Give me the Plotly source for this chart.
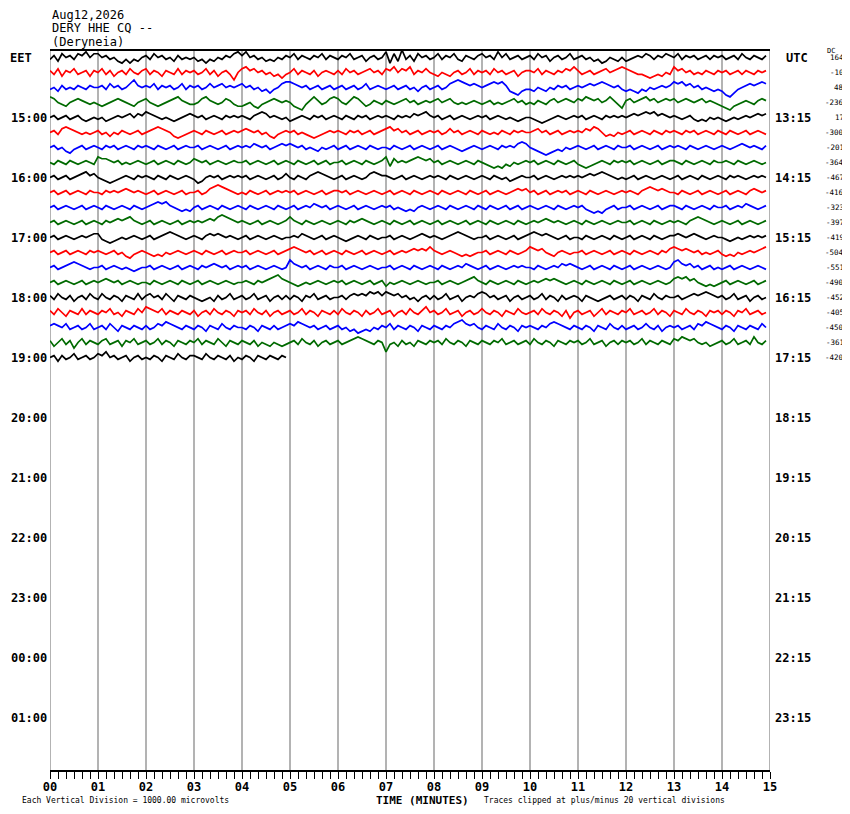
import plotly.graph_objects as go

# ---------------- header / labels ----------------
date_label = "Aug12,2026"
station_label = "DERY HHE CQ --"
site_label = "(Deryneia)"
left_zone = "EET"
right_zone = "UTC"
eet_hours = ["15:00", "16:00", "17:00", "18:00", "19:00", "20:00", "21:00",
             "22:00", "23:00", "00:00", "01:00"]
utc_hours = ["13:15", "14:15", "15:15", "16:15", "17:15", "18:15", "19:15",
             "20:15", "21:15", "22:15", "23:15"]
hour_rows = [4, 8, 12, 16, 20, 24, 28, 32, 36, 40, 44]
dc_values = [164, -10, 48, -236, 17, -300, -201, -364, -467, -416, -323,
             -397, -419, -504, -551, -490, -452, -405, -450, -361, -420]
minute_labels = ["00", "01", "02", "03", "04", "05", "06", "07", "08", "09",
                 "10", "11", "12", "13", "14", "15"]
trace_colors = ["#000000", "#ff0000", "#0000ff", "#006a00"]
n_rows = 48

# ---------------- trace amplitudes (one sample every 5 s, units of 1/8 division) ----------------
tr00 = [-1,1,-2,2,0,1,-1,2,1,3,0,2, 2,0,1,-1,0,-2,-3,-1,-3,-1,-2,0, 1,-1,2,0,1,-1,0,-2,1,-1,0,-1,
        0,-2,-1,-3,-1,-2,0,-1,1,0,2,3, 1,3,0,1,-1,0,-2,-1,-2,0,-1,1, 0,2,-1,1,0,-1,1,0,2,-1,1,0,
        -1,1,0,2,-1,0,1,-2,0,1,-1,0, 3,-3,2,-2,4,-1,1,-2,2,0,1,-1, 0,2,-1,1,0,2,-1,-2,1,0,-1,1,
        2,0,1,-1,3,0,2,-1,0,1,-1,0, 1,-1,2,0,1,-2,0,1,-1,0,2,-1, 0,1,-1,0,-2,-1,-3,-2,0,-1,-2,0,
        -2,-1,0,1,0,2,1,-1,1,0,2,1, 0,2,-1,1,0,1,-1,0,1,-1,1,0, 1,-1,0,1,-1,2,0,-1,1,0,-1,1]
tr01 = [1,-1,2,-2,1,0,2,-1,0,1,-2,1, 0,2,-1,1,-2,0,1,-1,2,0,-1,1, 2,-1,1,0,-2,1,0,-1,2,-1,1,0,
        1,-1,0,2,-1,1,-2,0,1,-1,-4,0, 2,3,1,2,0,1,-1,0,-2,-1,-3,-1, 0,2,-1,1,0,-1,1,-2,0,1,0,-1,
        1,-1,2,0,1,-1,0,1,2,0,1,-1, 2,1,3,0,2,1,3,-1,1,0,2,0, -1,-2,0,-1,-2,0,1,-1,0,2,-1,1,
        0,1,-1,2,0,1,-1,0,1,-2,0,1, 1,0,2,-1,1,0,-1,1,0,2,1,3, 1,-1,0,1,-1,0,1,2,0,1,2,3,
        2,1,0,-1,-1,-2,-3,-2,-1,-2,0,-1, 3,1,2,0,1,-1,0,-1,1,0,-1,1, 0,1,-1,0,1,-1,1,0,-1,1,0,1]
tr02 = [-1,0,-2,1,-1,0,-1,1,0,-1,1,0, 0,1,-1,2,0,1,-1,0,2,4,1,0, 1,0,2,-1,1,0,1,-1,0,2,-1,1,
        0,1,-1,0,2,0,1,2,0,1,0,1, 2,0,1,-1,0,-2,-1,-3,-1,0,2,3, 3,2,1,0,1,-1,0,1,-1,0,1,-1,
        0,1,-1,0,1,-1,0,2,-1,0,1,0, -1,0,1,-1,0,1,-1,0,-2,0,1,-1, 0,1,-1,0,2,3,4,3,2,1,2,1,
        0,1,2,3,2,3,1,-2,-3,-4,-2,-1, -1,-2,0,-1,-2,0,-1,1,0,1,-1,0, 1,0,1,2,1,2,3,2,1,0,1,-1,
        -2,-1,-2,-3,-1,-2,0,-1,0,1,0,1, 3,2,3,1,2,0,1,-1,0,-1,-2,-1, -2,-4,-5,-3,-1,0,1,2,1,2,3,2]
tr03 = [3,2,0,-1,-2,0,1,2,1,0,-1,0, -1,-2,-1,0,1,2,1,0,-1,-2,0,1, 2,0,-1,-2,-1,0,1,2,3,1,0,-1,
        -1,0,2,3,1,0,-1,0,2,1,-1,-2, -2,-1,0,-2,-3,-1,0,1,2,1,0,1, 0,-2,-3,-4,-1,1,3,1,-1,0,2,3,
        2,0,-1,1,3,2,0,-2,-1,1,0,-1, 1,0,-1,0,1,2,0,1,-1,0,1,0, 1,2,0,1,2,0,-1,0,-1,0,1,0,
        -1,0,1,-1,0,-1,0,1,2,0,1,-1, 0,-1,1,0,-1,1,2,0,1,2,1,0, 2,1,3,2,1,2,0,1,3,1,-1,-3,
        1,2,0,1,2,3,1,2,0,1,2,1, 2,0,1,2,1,0,1,2,0,1,0,-1, -2,-3,-4,-2,-1,0,1,0,-1,1,2,1]
tr04 = [0,1,-1,0,1,-1,0,1,-1,-2,-1,0, -1,0,-2,-1,0,1,0,1,2,0,2,1, 3,2,1,0,-1,0,-1,-2,-1,0,1,2,
        1,0,1,-1,0,1,0,-1,1,0,1,0, 1,0,-1,1,2,3,2,0,1,0,-1,0, -2,-1,0,1,0,-1,1,0,1,-1,0,1,
        0,-1,1,0,-1,1,0,1,-1,0,1,0, 1,0,-1,1,0,1,0,2,1,2,3,1, 0,1,-1,0,1,-1,0,1,0,-1,0,1,
        0,1,-1,0,1,0,-1,0,-1,-2,-1,0, 0,-1,-2,-3,-2,-1,0,1,0,-1,0,1, 0,1,-1,0,1,0,-1,1,0,1,0,1,
        0,1,2,1,2,3,2,3,1,2,1,0, 1,0,-1,0,1,-1,-2,-1,-2,0,-1,0, -1,-2,-1,0,-1,0,1,0,1,2,1,2]
tr05 = [0,1,-1,2,3,2,1,0,-1,0,-1,0, 1,-1,0,-2,0,-1,1,0,-1,0,1,-1, 0,1,2,3,2,1,0,-2,-3,-2,-1,0,
        1,0,-1,1,0,-1,0,1,-1,0,1,0, 1,2,1,0,1,-1,0,-2,-3,-1,0,1, 0,1,-1,0,-1,-2,-3,-2,-1,0,1,0,
        1,0,-1,1,0,1,-1,0,1,-1,0,1, 2,3,1,2,0,1,-1,0,1,-1,0,1, 0,1,-1,0,2,0,1,-1,0,1,0,-1,
        1,0,-1,0,-1,1,0,-1,1,0,1,0, 0,1,2,0,1,-1,0,1,-1,0,1,0, 1,0,2,1,3,2,0,-2,-1,-2,0,-1,
        0,1,-1,0,1,0,-1,1,0,-1,1,0, 1,0,-1,1,0,1,-1,0,1,0,-1,1, 0,-1,1,0,-1,0,1,-1,0,1,0,-1]
tr06 = [0,1,-1,0,-2,-3,-1,0,1,-1,0,1, 0,-1,1,0,1,-1,0,1,0,-1,1,0, 1,0,-1,1,0,-1,0,1,-1,0,1,0,
        0,1,-1,0,1,0,-1,0,1,-1,0,1, 0,1,0,2,1,0,1,-1,0,1,2,1, 2,1,0,1,-1,0,-1,-2,0,-1,0,1,
        -1,0,1,-1,0,1,0,-1,1,0,-1,0, 0,-1,1,0,-1,0,1,-1,0,1,0,-1, 0,1,-1,0,1,0,-1,-2,-1,0,1,0,
        -1,0,1,0,-1,1,0,1,0,2,3,2, 0,-1,-2,-3,-4,-3,-2,-1,-2,0,-1,0, 1,0,-1,0,1,-1,0,1,0,-1,1,0,
        0,1,-1,0,1,0,-1,0,1,-1,0,1, 0,1,0,-1,1,0,-1,0,1,0,-1,0, 1,0,-1,0,1,2,1,0,1,0,-1,1]
tr07 = [0,-1,1,0,-1,1,0,-1,0,1,0,-1, 3,2,2,1,0,1,-1,0,-1,0,1,0, -1,0,1,-1,0,1,0,-1,1,0,-1,0,
        2,1,0,1,-1,0,1,0,-1,0,1,0, 0,1,-1,0,1,0,-1,0,1,-1,0,1, 0,-1,1,0,-1,0,1,-1,0,1,-1,0,
        0,1,-1,0,1,0,-1,1,0,-1,0,1, 3,-2,2,0,1,0,1,2,3,2,1,2, 0,1,-1,0,1,0,-1,0,1,0,-1,1,
        0,-1,-2,-3,-2,-3,-1,-2,0,-1,0,1, 0,1,-1,0,1,0,-1,1,0,-1,0,1, -1,-2,-3,-2,-1,0,1,0,-1,1,0,1,
        0,1,-1,0,1,0,-1,0,1,-1,0,1, 1,0,-1,1,0,-1,0,1,0,-1,1,0, 0,1,0,-1,1,0,-1,0,1,0,-1,0]
tr08 = [0,1,-1,0,1,-1,0,1,2,3,1,2, 0,-1,-2,-3,-2,-1,0,1,0,-1,1,0, 1,0,-1,1,0,-1,1,0,-1,0,1,0,
        -1,-3,-2,0,1,0,1,-1,0,1,0,1, 0,1,-1,0,1,0,-1,0,1,-1,0,2, 0,-1,1,0,-1,1,2,3,2,1,0,-1,
        0,1,-1,0,1,0,-1,0,2,3,2,1, 1,0,-1,0,1,-1,0,1,0,-1,0,1, 0,1,0,-1,1,0,-1,0,1,0,-1,0,
        1,0,-1,1,0,-1,0,-2,-1,0,1,0, 0,1,-1,0,1,0,-1,0,1,0,1,0, 1,0,1,2,1,2,3,2,1,0,-1,0,
        -1,0,1,-1,0,1,0,-1,0,1,0,-1, 0,1,-1,0,1,0,-1,1,0,-1,0,1, 0,-1,1,0,1,0,-1,0,1,0,1,0]
tr09 = [0,1,-1,0,1,-1,0,1,0,-1,1,0, 0,-1,1,0,1,0,1,2,1,0,1,0, -1,0,1,-1,0,1,0,-1,0,1,-1,0,
        0,1,-1,0,2,3,4,3,2,1,0,-1, 0,-1,1,0,-1,0,1,-1,0,1,0,1, 0,1,-1,0,1,0,-1,0,1,-1,0,1,
        1,0,1,-1,0,1,0,-1,0,1,0,-1, 0,1,-1,0,1,0,-1,1,0,-1,0,1, 0,-1,1,0,-1,0,1,0,-1,1,0,-1,
        0,1,-1,0,1,0,-1,0,1,2,1,2, 0,1,-1,0,1,-1,0,1,0,1,-1,0, 1,0,-1,1,0,-1,0,1,0,-1,0,1,
        0,1,0,-1,1,2,3,2,1,2,1,0, 0,-1,1,0,-1,0,1,-1,0,1,0,-1, 0,1,-1,0,1,0,-1,1,2,1,0,1]
tr10 = [0,1,-1,0,1,0,-1,0,1,-1,0,1, 0,-1,1,0,-1,0,1,0,-1,1,0,-1, 0,1,2,3,2,3,1,0,-1,-2,-1,-2,
        0,1,-1,0,1,0,-1,1,0,-1,0,1, 0,-1,1,0,-1,0,1,0,-1,1,0,-1, 0,1,-1,0,1,0,2,1,0,1,-1,0,
        1,0,-1,0,1,-1,0,1,0,-1,0,1, 0,1,-1,0,-1,-2,-1,-2,0,1,0,-1, 0,1,0,-1,1,0,-1,0,1,0,-1,1,
        0,-1,1,0,-1,0,1,-1,0,1,-1,0, 1,0,-1,0,1,0,-1,1,0,-1,0,1, 0,1,-1,-2,-3,-2,-3,-1,0,1,-1,0,
        0,1,-1,0,1,0,-1,0,1,-1,0,1, 1,0,-1,1,0,-1,0,1,0,-1,1,0, 0,1,-1,0,1,0,2,1,0,-1,0,1]
tr11 = [0,1,-1,0,1,0,-1,0,1,-1,0,1, 0,-1,1,0,1,2,1,2,3,1,0,-1, 0,1,-1,0,1,0,-1,0,1,-1,0,1,
        0,1,0,1,2,1,3,4,3,2,1,0, 1,0,-1,0,1,-1,0,1,0,-1,0,1, 3,1,0,-1,1,0,-1,0,1,0,-1,0,
        1,0,-1,1,0,1,2,1,0,-1,0,1, 0,-1,1,0,-1,0,1,-1,0,1,0,-1, 0,1,-1,0,1,0,-1,0,1,-1,0,1,
        0,-1,1,0,-1,0,1,0,-1,1,0,-1, 0,1,0,1,2,1,0,1,0,-1,0,1, 0,-1,1,0,-1,0,1,0,-1,0,1,0,
        0,1,-1,0,1,0,-1,1,0,-1,0,1, 0,1,0,-1,1,2,3,2,1,0,-1,0, 1,0,-1,0,1,-1,0,1,0,-1,0,1]
tr12 = [0,1,-1,0,1,0,-1,0,1,0,1,2, 2,-1,-2,-3,-2,-1,0,-1,0,1,0,-1, 0,1,-1,0,1,2,3,2,1,0,-1,0,
        1,0,-1,1,2,1,2,1,0,1,0,-1, 0,1,-1,0,1,0,-1,0,1,0,-1,0, 0,1,0,2,1,0,-1,0,1,-1,0,1,
        0,-1,-2,-1,0,1,0,-1,1,0,-1,0, 0,1,-1,0,1,0,-1,0,1,2,1,0, 1,0,-1,0,1,2,3,2,1,0,-1,0,
        0,1,-1,0,1,0,-1,0,1,-1,0,1, 2,3,2,1,2,1,0,-1,0,1,-1,0, 0,-1,1,0,-1,0,1,0,-1,1,0,-1,
        0,1,-1,0,1,0,-1,1,0,-1,0,1, 1,2,1,0,1,2,1,0,-1,0,1,0, 0,-1,-2,-1,0,-1,0,1,0,1,0,1]
tr13 = [0,1,-1,0,1,-1,0,1,0,-1,1,0, 1,0,-1,0,1,-1,0,-2,-3,-1,0,1, 0,-1,-2,-1,-2,0,-1,0,1,0,-1,0,
        1,0,-1,1,0,-1,0,1,-1,0,1,0, 0,1,-1,0,1,0,-1,0,1,-1,0,1, 2,3,2,1,0,1,-1,0,1,-1,0,1,
        0,-1,1,0,-1,0,1,-1,0,1,0,-1, 0,1,-1,0,1,0,1,2,1,2,1,3, 1,0,-1,0,1,0,-1,-2,-1,-2,-1,0,
        0,1,-1,0,1,0,-1,1,0,-1,0,1, 3,2,1,2,0,-1,-2,0,1,0,-1,0, 0,1,-1,0,1,0,-1,0,1,-1,0,1,
        0,-1,1,0,-1,0,1,0,-1,1,0,2, 3,2,1,2,1,0,1,-1,0,-1,0,1, -1,-2,-1,-2,0,-1,0,1,0,1,2,3]
tr14 = [0,1,-1,0,1,2,3,2,1,0,-1,0, 0,1,-1,0,1,0,-1,0,-1,-2,-1,0, 0,1,-1,0,1,0,-1,0,1,-1,0,1,
        0,-1,1,0,1,2,1,0,1,-1,0,1, 0,1,-1,0,1,0,-1,0,1,0,-1,0, 4,2,1,0,1,-1,0,1,0,-1,1,0,
        0,1,-1,0,1,0,-1,0,1,0,-1,0, 0,1,-1,0,1,0,-1,1,0,-1,0,1, 0,-1,1,0,-1,0,1,0,2,1,0,-1,
        0,1,-1,0,1,0,-1,0,1,0,1,0, 0,-1,1,0,-1,0,1,0,2,1,2,1, 0,-1,0,1,-1,0,1,0,-1,1,0,-1,
        0,1,-1,0,1,0,-1,0,1,0,-1,0, 3,4,2,1,2,0,1,-1,0,1,-1,0, -1,0,1,-1,0,1,0,-1,0,1,0,-1]
tr15 = [0,1,-1,0,1,0,-1,0,1,-1,0,1, 0,1,2,1,0,1,-1,0,1,0,-1,0, 0,-1,1,0,-1,0,1,0,-1,1,0,-1,
        0,1,-1,0,1,0,-1,0,1,0,-1,0, 0,1,0,-1,1,0,1,2,3,4,2,1, 0,-1,-2,-1,0,-1,0,1,0,-1,0,1,
        0,1,-1,0,1,0,-1,0,1,-1,0,1, -2,0,-1,0,1,0,-1,0,1,0,-1,0, 0,1,-1,0,1,0,-1,0,1,2,3,1,
        0,-1,1,0,-1,0,1,0,-1,1,0,-1, 0,1,0,1,2,1,2,1,0,-1,0,1, 0,-1,1,0,-1,0,1,0,-1,1,0,-1,
        0,1,-1,0,1,0,-1,0,1,0,-1,0, 2,3,2,3,1,2,0,-1,-2,-1,-2,-1, 0,1,-1,0,1,0,-1,0,1,-1,0,1]
tr16 = [1,-1,2,0,-1,1,-2,0,1,-1,2,0, -1,2,0,-1,1,0,-2,1,0,-1,2,-1, 1,2,0,1,-1,2,0,-2,1,0,-1,1,
        0,-1,-2,-1,0,-2,1,-1,0,2,-1,0, 1,-1,0,2,-1,0,1,-2,0,1,-1,1, -1,1,0,-2,1,0,2,-1,0,1,-1,0,
        0,1,-1,1,2,1,2,1,3,2,3,1, 3,2,1,2,0,1,-1,0,-2,0,1,-1, 1,-1,0,2,-1,0,1,-2,0,1,0,2,
        3,2,0,1,-1,0,1,-2,0,1,-1,0, 1,-1,0,2,-1,1,0,-2,1,-1,0,1, 0,-2,1,0,-1,-2,-1,0,1,-1,0,1,
        -1,1,0,-2,1,0,-1,2,0,-1,1,0, 0,1,-1,0,1,2,1,2,3,2,1,0, 1,-1,0,2,-1,0,1,-2,0,1,-1,0]
tr17 = [1,-1,2,0,-2,1,0,-1,2,-1,1,0, -1,1,0,2,-1,0,-2,1,0,-1,2,0, 3,2,1,0,2,-1,1,0,-1,1,0,-1,
        1,-2,0,1,-1,2,0,-1,1,0,-2,1, 0,1,-1,2,0,-1,1,-2,0,1,-1,0, 1,-1,0,2,-1,1,0,-2,1,0,-1,1,
        -1,2,0,-1,1,0,-2,1,-1,0,2,-1, 0,1,-2,0,1,-1,2,0,-1,1,3,0, 1,-1,0,2,-1,0,1,-2,0,1,-1,0,
        2,0,-1,1,0,-2,1,0,-1,2,0,-1, 0,1,-1,2,0,-1,1,0,-2,1,-3,0, 1,-1,0,1,-2,0,2,-1,1,0,-1,1,
        0,2,-1,0,1,-1,0,2,-1,1,0,-2, 1,0,-1,2,0,-1,1,0,-2,1,0,1, -1,1,0,-2,1,0,2,-1,0,1,-1,0]
tr18 = [1,2,1,0,2,-1,0,1,-1,0,2,-1, 0,1,-1,2,0,-2,1,0,-1,1,0,-1, 1,-1,0,2,1,3,2,1,0,-1,1,0,
        -1,1,0,-2,1,0,-1,2,0,-1,1,0, 0,-1,1,0,-2,1,0,-1,1,-1,0,1, 2,1,3,2,1,0,1,-1,0,1,-1,0,
        1,-1,0,-2,-1,-3,-2,-1,-2,0,-1,1, 0,2,-1,1,0,-1,1,0,-2,1,0,-1, 1,0,-1,1,0,2,3,4,2,1,2,0,
        -1,1,0,-1,2,0,-1,1,0,-2,1,0, 1,0,-1,1,0,2,3,2,1,0,-1,1, 0,-1,1,0,-2,1,0,-1,2,0,-1,1,
        -1,0,1,-1,0,2,0,-1,1,-2,0,1, 0,1,-1,0,1,-1,2,1,3,2,1,0, -1,1,0,-2,1,0,-1,1,0,-1,2,0]
tr19 = [1,-2,0,2,-1,1,-3,0,2,-1,1,0, -1,1,2,-1,0,1,-2,1,0,2,-1,0, 1,-1,0,2,-1,1,0,-2,1,0,-1,1,
        0,2,-1,1,0,-1,2,0,-2,1,0,-1, 1,0,-1,1,-2,0,-1,-2,0,-1,-2,-1, 0,1,-1,2,0,-1,1,-2,0,1,-1,0,
        1,-1,0,1,2,3,2,1,0,-1,1,0, -5,-1,0,-2,1,-1,0,-2,1,0,-1,1, 0,1,-1,2,0,-1,1,0,-2,1,0,-1,
        1,0,-1,1,0,2,-1,0,1,-1,0,1, -1,2,0,-1,1,0,-2,1,0,-1,1,0, 1,-1,0,2,-1,0,1,-2,0,1,-1,1,
        0,1,-1,0,2,-1,1,0,-1,1,0,-1, 2,1,3,2,1,2,0,-1,0,-2,-1,0, 1,-1,0,2,-1,0,1,-1,3,0,-1,1]
tr20 = [0,1,-2,1,-1,0,2,-1,0,1,-1,0, 2,1,3,0,1,-1,0,1,-2,0,1,-1, 0,-1,1,0,-2,1,0,-1,2,0,-1,1,
        1,0,-1,2,0,-1,1,0,-1,1,-2,0, -1,1,0,-2,1,0,-1,1,0,-1,1,0]

traces = [tr00, tr01, tr02, tr03, tr04, tr05, tr06, tr07, tr08, tr09, tr10,
          tr11, tr12, tr13, tr14, tr15, tr16, tr17, tr18, tr19, tr20]
SAMPLE_MIN = 5 / 60.0      # minutes between samples
UNIT = 1 / 8.0             # one amplitude unit in vertical divisions (rows)

fig = go.Figure()
for row, vals in enumerate(traces):
    xs = [k * SAMPLE_MIN for k in range(len(vals))]
    ys = [row - v * UNIT for v in vals]
    fig.add_trace(go.Scatter(x=xs, y=ys, mode="lines",
                             line=dict(color=trace_colors[row % 4], width=1.7),
                             hoverinfo="skip", showlegend=False))

# minute grid lines
shapes = []
for m in range(0, 16):
    shapes.append(dict(type="line", xref="x", yref="paper", x0=m, x1=m, y0=0, y1=1,
                       line=dict(color="#808080", width=1.2), layer="below"))
shapes.append(dict(type="line", xref="paper", yref="paper", x0=0, x1=1, y0=1, y1=1,
                   line=dict(color="#000000", width=2)))

# page is drawn with an 8px body margin: figure coordinates are screen - 8
OFF = 8
W, H = 850 - OFF, 814 - OFF
PL, PT = 50 - OFF, 50 - OFF
PR = W - (770 - OFF)
PB = H - (770 - OFF)
PW, PH = W - PL - PR, H - PT - PB


def px_x(px):
    return (px - OFF - PL) / PW


def px_y(py):
    return 1 - (py - OFF - PT) / PH


mono = "DejaVu Sans Mono"
ann = []
ann.append(dict(text=date_label, x=px_x(50), y=px_y(15), xanchor="left", yanchor="middle",
                font=dict(family=mono, size=12, color="black")))
ann.append(dict(text=station_label, x=px_x(50), y=px_y(28.5), xanchor="left", yanchor="middle",
                font=dict(family=mono, size=12, color="black")))
ann.append(dict(text=site_label, x=px_x(50), y=px_y(42), xanchor="left", yanchor="middle",
                font=dict(family=mono, size=12, color="black")))
ann.append(dict(text="<b>%s</b>" % left_zone, x=px_x(8), y=0, xanchor="left", yanchor="middle",
                yref="y", font=dict(family=mono, size=12, color="black")))
ann.append(dict(text="<b>%s</b>" % right_zone, x=px_x(784), y=0, xanchor="left",
                yanchor="middle", yref="y", font=dict(family=mono, size=12, color="black")))
ann.append(dict(text="DC", x=px_x(825), y=px_y(51), xanchor="left", yanchor="middle",
                font=dict(family=mono, size=7, color="black")))
for lab, r in zip(eet_hours, hour_rows):
    ann.append(dict(text="<b>%s</b>" % lab, x=px_x(49), y=r, yref="y", xanchor="right",
                    yanchor="middle", font=dict(family=mono, size=12, color="black")))
for lab, r in zip(utc_hours, hour_rows):
    ann.append(dict(text="<b>%s</b>" % lab, x=px_x(773), y=r, yref="y", xanchor="left",
                    yanchor="middle", font=dict(family=mono, size=12, color="black")))
for r, dc in enumerate(dc_values):
    ann.append(dict(text=str(dc), x=px_x(846), y=r, yref="y", xanchor="right",
                    yanchor="middle", font=dict(family=mono, size=7.5, color="black")))
ann.append(dict(text="<b>TIME (MINUTES)</b>", x=px_x(422), y=px_y(800), xanchor="center",
                yanchor="middle", font=dict(family=mono, size=11, color="black")))
ann.append(dict(text="Each Vertical Division = 1000.00 microvolts", x=px_x(20), y=px_y(800),
                xanchor="left", yanchor="middle", font=dict(family=mono, size=8, color="black")))
ann.append(dict(text="Traces clipped at plus/minus 20 vertical divisions", x=px_x(482),
                y=px_y(800), xanchor="left", yanchor="middle",
                font=dict(family=mono, size=8, color="black")))
for a in ann:
    a.setdefault("xref", "paper")
    a.setdefault("yref", "paper")
    a["showarrow"] = False

fig.update_layout(
    width=W, height=H, autosize=False,
    margin=dict(l=PL, r=PR, t=PT, b=PB, pad=0),
    paper_bgcolor="white", plot_bgcolor="white",
    shapes=shapes, annotations=ann,
    xaxis=dict(range=[0, 15], showgrid=False, zeroline=False,
               tickmode="array", tickvals=list(range(16)), ticktext=minute_labels,
               ticks="outside", ticklen=7, tickwidth=1, tickcolor="black",
               ticklabelstandoff=-2,
               showline=True, linecolor="black", linewidth=1.5,
               tickfont=dict(family=mono, size=12, color="black", weight="bold"),
               minor=dict(tickmode="linear", tick0=0, dtick=1 / 6, ticks="outside",
                          ticklen=7, tickwidth=1, tickcolor="black", showgrid=False)),
    yaxis=dict(range=[n_rows - 0.5, -0.5], showgrid=False, zeroline=False,
               showticklabels=False, ticks="", showline=False),
)

fig.write_html("out.html")
